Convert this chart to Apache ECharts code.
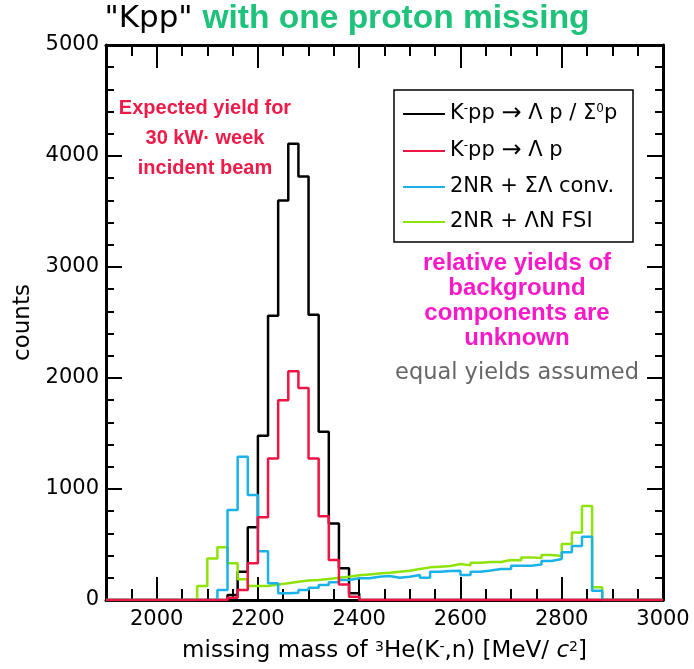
<!DOCTYPE html>
<html>
<head>
<meta charset="utf-8">
<script src="https://cdn.jsdelivr.net/npm/echarts@6/dist/echarts.min.js"></script>
<style>
  html, body { margin: 0; padding: 0; background: #fff; }
  #chart { width: 694px; height: 669px; }
</style>
</head>
<body>
<div id="chart"></div>
<script>
  // histogram bins: 20 MeV wide, lower edges 1900 ... 2980
  const binStart = 1900
  const binWidth = 20

  // K-pp -> Lambda p / Sigma0 p
  const kppAll = [
    0, 0, 0, 0, 0, 0, 0, 0, 0, 0, 0, 0,
    45, 255, 655, 1480, 2560, 3600, 4110, 3815, 2570, 1515, 690, 285, 60,
    0, 0, 0, 0, 0, 0, 0, 0, 0, 0, 0, 0, 0, 0, 0,
    0, 0, 0, 0, 0, 0, 0, 0, 0, 0, 0, 0, 0, 0, 0
  ]
  // K-pp -> Lambda p
  const kppLp = [
    0, 0, 0, 0, 0, 0, 0, 0, 0, 0, 0, 0,
    20, 90, 330, 745, 1275, 1800, 2060, 1910, 1275, 755, 360, 140, 30,
    0, 0, 0, 0, 0, 0, 0, 0, 0, 0, 0, 0, 0, 0, 0,
    0, 0, 0, 0, 0, 0, 0, 0, 0, 0, 0, 0, 0, 0, 0
  ]
  // 2NR + Sigma Lambda conversion
  const bgConv = [
    0, 0, 0, 0, 0, 0, 0, 0, 0, 0, 0,
    90, 810, 1290, 945, 440, 150, 60, 66, 90, 110, 135, 160, 180, 195,
    195, 210, 216, 200, 210, 225, 201, 255, 261, 264, 225, 255, 265, 279, 279,
    309, 309, 320, 351, 369, 430, 486, 570, 84,
    0, 0, 0, 0, 0, 0
  ]
  // 2NR + Lambda N FSI
  const bgFsi = [
    0, 0, 0, 0, 0, 0, 0, 0, 0,
    126, 375, 475, 330, 186, 126, 126, 140, 150, 165, 175, 180, 190, 200, 210, 222,
    230, 238, 245, 255, 264, 279, 294, 300, 306, 324, 312, 336, 342, 342, 360,
    357, 384, 378, 405, 396, 505, 607, 847, 114,
    0, 0, 0, 0, 0, 0
  ]

  const xMajor = [2000, 2200, 2400, 2600, 2800, 3000]
  const yMajor = [0, 1000, 2000, 3000, 4000, 5000]

  const seriesNames = ['kppAll', 'kppLp', 'bgConv', 'bgFsi']
  const legendLabels = {
    kppAll: 'K{sup|-}pp {ar|→} Λ p / Σ{sup|0}p',
    kppLp: 'K{sup|-}pp {ar|→} Λ p',
    bgConv: '2NR + ΣΛ conv.',
    bgFsi: '2NR + ΛN FSI'
  }

  const SANS = '"DejaVu Sans", sans-serif'
  const BOLD = '"Liberation Sans", Arial, sans-serif'

  // turn bin contents into step points, closing the last bin
  function steps (vals) {
    let pts = vals.map((v, i) => [binStart + i * binWidth, v])
    pts.push([binStart + vals.length * binWidth, vals[vals.length - 1]])
    return pts
  }

  function histo (name, vals, color) {
    return {
      name: name,
      type: 'line',
      step: 'end',
      symbol: 'none',
      xAxisIndex: 0,
      yAxisIndex: 0,
      lineStyle: { color: color, width: 2.5 },
      itemStyle: { color: color },
      data: steps(vals)
    }
  }

  function xAx (pos, long, withLabels) {
    let ax = {
      type: 'value',
      position: pos,
      min: 1900,
      max: 3000,
      interval: 50,
      splitLine: { show: false },
      axisLine: { show: !long, onZero: false, lineStyle: { color: '#000', width: 3 } },
      axisTick: { inside: true, length: long ? 23 : 11, lineStyle: { color: '#000', width: 2 } },
      axisLabel: { show: false }
    }
    if (long) ax.axisTick.customValues = xMajor
    if (withLabels) {
      ax.axisLabel = {
        show: true, customValues: xMajor, margin: 9,
        formatter: (v) => String(v),
        fontFamily: SANS, fontSize: 21, color: '#000'
      }
      ax.name = 'missing mass of {sup|3}He(K{sup|-},n) [MeV/ {it|c}{sup|2}]'
      ax.nameLocation = 'middle'
      ax.nameGap = 40
      ax.nameTextStyle = {
        fontFamily: SANS, fontSize: 23, color: '#000',
        rich: {
          sup: { fontFamily: SANS, fontSize: 14, verticalAlign: 'top', color: '#000' },
          it: { fontFamily: SANS, fontSize: 23, fontStyle: 'italic', color: '#000' }
        }
      }
    }
    return ax
  }

  function yAx (pos, long, withLabels) {
    let ax = {
      type: 'value',
      position: pos,
      min: 0,
      max: 5000,
      interval: 200,
      splitLine: { show: false },
      axisLine: { show: !long, onZero: false, lineStyle: { color: '#000', width: 3 } },
      axisTick: { inside: true, length: long ? 16 : 8, lineStyle: { color: '#000', width: 2 } },
      axisLabel: { show: false }
    }
    if (long) ax.axisTick.customValues = yMajor
    if (withLabels) {
      ax.axisLabel = {
        show: true, customValues: yMajor, margin: 7,
        formatter: (v) => String(v),
        fontFamily: SANS, fontSize: 21, color: '#000'
      }
      ax.name = 'counts'
      ax.nameLocation = 'middle'
      ax.nameGap = 61
      ax.nameTextStyle = { fontFamily: SANS, fontSize: 23, color: '#000' }
    }
    return ax
  }

  let chart = echarts.init(document.getElementById('chart'))

  let option = {
    animation: false,
    backgroundColor: '#fff',
    title: {
      text: '{a|"Kpp" }{b|with one proton missing}',
      left: 'center',
      top: 2,
      padding: 0,
      textStyle: {
        fontWeight: 'normal',
        rich: {
          a: { fontFamily: SANS, fontSize: 31, fontWeight: 'normal', color: '#000' },
          b: { fontFamily: BOLD, fontSize: 33.5, fontWeight: 'bold', color: '#1ec27a' }
        }
      }
    },
    grid: { left: 106, right: 31, top: 45, bottom: 69 },
    legend: {
      data: seriesNames,
      orient: 'vertical',
      left: 394,
      top: 90,
      padding: [12, 9, 9, 9],
      icon: 'rect',
      itemWidth: 42,
      itemHeight: 2,
      itemGap: 13,
      borderColor: '#000',
      borderWidth: 1.5,
      backgroundColor: '#fff',
      formatter: (name) => legendLabels[name],
      textStyle: {
        fontFamily: SANS,
        fontSize: 21,
        color: '#000',
        width: 174,
        lineHeight: 22,
        rich: {
          sup: { fontFamily: SANS, fontSize: 12, verticalAlign: 'top', color: '#000' },
          ar: { fontFamily: SANS, fontSize: 24, color: '#000' }
        }
      }
    },
    xAxis: [xAx('bottom', false, true), xAx('bottom', true), xAx('top', false), xAx('top', true)],
    yAxis: [yAx('left', false, true), yAx('left', true), yAx('right', false), yAx('right', true)],
    graphic: [
      {
        type: 'text', x: 205, y: 138,
        style: {
          text: 'Expected yield for\n30 kW· week\nincident beam',
          fontFamily: BOLD, fontSize: 20, fontWeight: 'bold', fill: '#ee1a48',
          align: 'center', verticalAlign: 'middle', lineHeight: 30
        }
      },
      {
        type: 'text', x: 517, y: 300.5,
        style: {
          text: 'relative yields of\nbackground\ncomponents are\nunknown',
          fontFamily: BOLD, fontSize: 24, fontWeight: 'bold', fill: '#fa19c8',
          align: 'center', verticalAlign: 'middle', lineHeight: 25
        }
      },
      {
        type: 'text', x: 517, y: 373.5,
        style: {
          text: 'equal yields assumed',
          fontFamily: SANS, fontSize: 22.5, fill: '#666',
          align: 'center', verticalAlign: 'middle'
        }
      }
    ],
    series: [
      histo('kppAll', kppAll, '#000'),
      histo('bgFsi', bgFsi, '#8ee30a'),
      histo('bgConv', bgConv, '#1ab2e8'),
      histo('kppLp', kppLp, '#ee1443')
    ]
  }

  chart.setOption(option)
</script>
</body>
</html>
